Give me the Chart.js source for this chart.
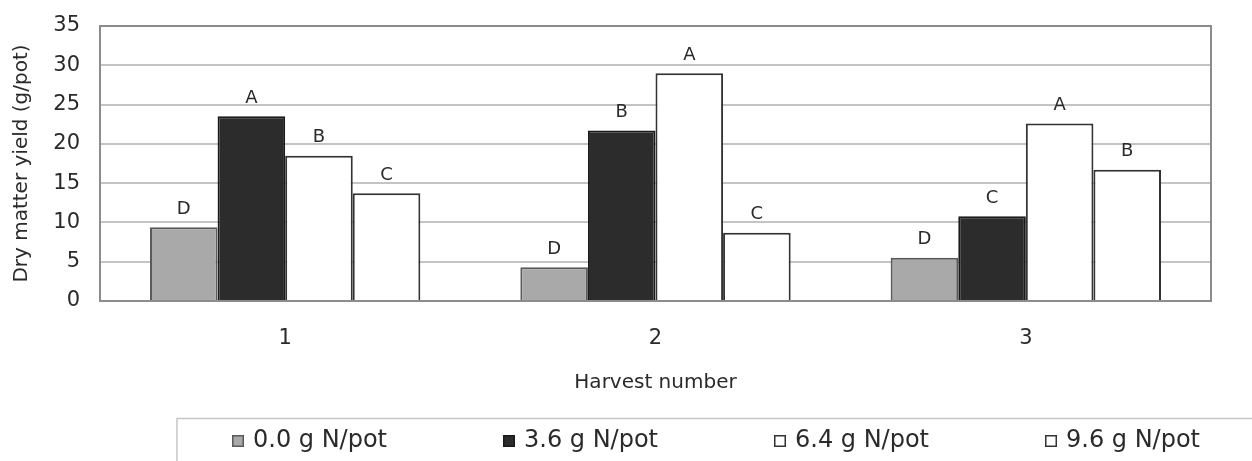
<!DOCTYPE html>
<html><head><meta charset="utf-8">
<script src="https://cdn.jsdelivr.net/npm/chart.js@4.4.0/dist/chart.umd.min.js"></script>
<style>html,body{margin:0;padding:0;background:#fff}#wrap{width:1252px;height:461px;position:relative}</style>
</head><body><div id="wrap"><canvas id="c"></canvas></div>
<script>
const categories = ['1', '2', '3'];
const seriesNames = ['0.0 g N/pot', '3.6 g N/pot', '6.4 g N/pot', '9.6 g N/pot'];
const n00 = [9.4, 4.3, 5.5];
const n36 = [23.5, 21.7, 10.8];
const n64 = [18.5, 29.0, 22.6];
const n96 = [13.7, 8.7, 16.7];
const letters00 = ['D', 'D', 'D'];
const letters36 = ['A', 'B', 'C'];
const letters64 = ['B', 'A', 'A'];
const letters96 = ['C', 'C', 'B'];
const yTicks = [0, 5, 10, 15, 20, 25, 30, 35];
const xTitle = 'Harvest number';
const yTitle = 'Dry matter yield (g/pot)';

const FONT = '"DejaVu Sans", sans-serif';
const TEXT = '#2a2a2a';
Chart.defaults.font.family = FONT;
Chart.defaults.color = TEXT;

const allLetters = [letters00, letters36, letters64, letters96];

const framePlugin = {
  id: 'frame',
  beforeDatasetsDraw(chart) {
    const {ctx, chartArea: a} = chart;
    ctx.save();
    ctx.strokeStyle = '#8c8c8c';
    ctx.lineWidth = 2;
    ctx.strokeRect(a.left, a.top, a.right - a.left, a.bottom - a.top);
    ctx.restore();
  }
};

const letterPlugin = {
  id: 'letters',
  afterDatasetsDraw(chart) {
    const ctx = chart.ctx;
    ctx.save();
    ctx.font = '18px ' + FONT;
    ctx.fillStyle = TEXT;
    ctx.textAlign = 'center';
    ctx.textBaseline = 'middle';
    chart.data.datasets.forEach((ds, i) => {
      chart.getDatasetMeta(i).data.forEach((el, j) => {
        ctx.fillText(allLetters[i][j], el.x, el.y - 18);
      });
    });
    ctx.restore();
  }
};

const legendPlugin = {
  id: 'boxLegend',
  afterDraw(chart) {
    const ctx = chart.ctx;
    ctx.save();
    ctx.strokeStyle = '#c6c6c6';
    ctx.lineWidth = 1.5;
    ctx.beginPath();
    ctx.moveTo(177, 461); ctx.lineTo(177, 418.5); ctx.lineTo(1252, 418.5);
    ctx.stroke();
    ctx.font = '24px ' + FONT;
    ctx.textBaseline = 'middle';
    chart.data.datasets.forEach((ds, i) => {
      const x = 232 + i * 271, y = 441;
      ctx.fillStyle = ds.backgroundColor;
      ctx.fillRect(x, y - 6, 12, 12);
      ctx.strokeStyle = ds.borderColor;
      ctx.lineWidth = 1.5;
      ctx.strokeRect(x + 0.75, y - 5.25, 10.5, 10.5);
      ctx.fillStyle = TEXT;
      ctx.fillText(ds.label, x + 21, y);
    });
    ctx.restore();
  }
};

const fills = ['#a9a9a9', '#2c2c2c', '#ffffff', '#ffffff'];
const borders = ['#5a5a5a', '#1a1a1a', '#333333', '#333333'];
const values = [n00, n36, n64, n96];

new Chart(document.getElementById('c'), {
  type: 'bar',
  data: {
    labels: categories,
    datasets: seriesNames.map((name, i) => ({
      label: name,
      data: values[i],
      backgroundColor: fills[i],
      borderColor: borders[i],
      borderWidth: 2,
      categoryPercentage: 0.73,
      barPercentage: 1.0
    }))
  },
  options: {
    responsive: true,
    maintainAspectRatio: false,
    animation: false,
    layout: {padding: {left: 0, right: 41, top: 26, bottom: 60}},
    plugins: {legend: {display: false}, tooltip: {enabled: false}},
    scales: {
      x: {
        grid: {display: false},
        border: {display: false},
        ticks: {font: {size: 21}, padding: 17, color: TEXT},
        title: {display: true, text: xTitle, font: {size: 20}, color: TEXT, padding: {top: 0, bottom: 6}},
        afterFit: s => { s.height = 100; }
      },
      y: {
        min: 0, max: 35,
        ticks: {stepSize: 5, font: {size: 21}, padding: 20, color: TEXT},
        afterBuildTicks: s => { s.ticks = yTicks.map(v => ({value: v})); },
        grid: {color: '#c4c4c4', lineWidth: 2, drawTicks: false},
        border: {display: false},
        title: {display: true, text: yTitle, font: {size: 20}, color: TEXT, padding: {top: 10, bottom: 0}},
        afterFit: s => { s.width = 100; s.paddingTop = 0; s.paddingBottom = 0; }
      }
    }
  },
  plugins: [framePlugin, letterPlugin, legendPlugin]
});
</script>
</body></html>
